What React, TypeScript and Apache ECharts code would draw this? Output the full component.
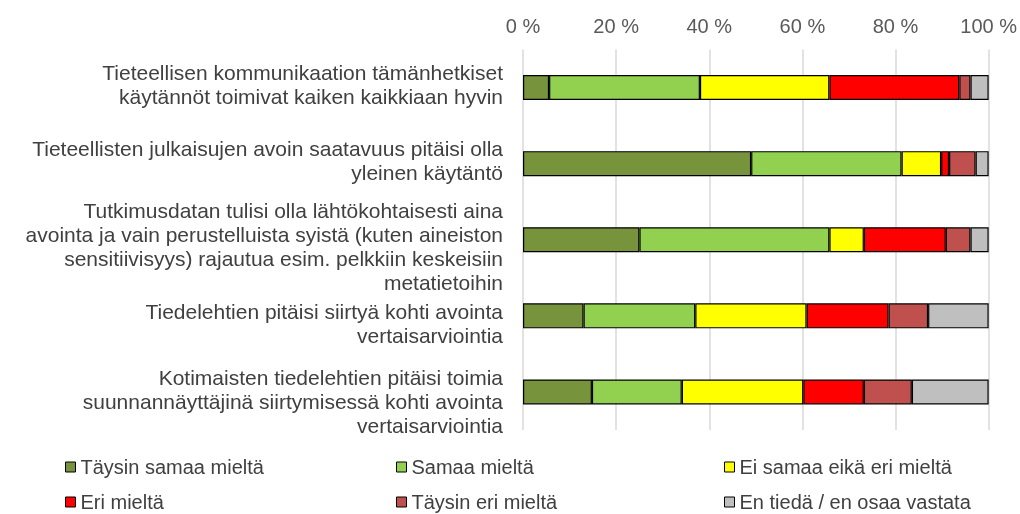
import React, { useEffect, useRef } from "react";
import * as echarts from "echarts";

const categories = [
  "Tieteellisen kommunikaation tämänhetkiset\nkäytännöt toimivat kaiken kaikkiaan hyvin",
  "Tieteellisten julkaisujen avoin saatavuus pitäisi olla\nyleinen käytäntö",
  "Tutkimusdatan tulisi olla lähtökohtaisesti aina\navointa ja vain perustelluista syistä (kuten aineiston\nsensitiivisyys) rajautua esim. pelkkiin keskeisiin\nmetatietoihin",
  "Tiedelehtien pitäisi siirtyä kohti avointa\nvertaisarviointia",
  "Kotimaisten tiedelehtien pitäisi toimia\nsuunnannäyttäjinä siirtymisessä kohti avointa\nvertaisarviointia",
];

const seriesNames = [
  "Täysin samaa mieltä",
  "Samaa mieltä",
  "Ei samaa eikä eri mieltä",
  "Eri mieltä",
  "Täysin eri mieltä",
  "En tiedä / en osaa vastata",
];

const seriesColors = ["#77933c", "#92d050", "#ffff00", "#ff0000", "#c0504d", "#bfbfbf"];

const taysinSamaa = [5.6, 49.0, 25.0, 13.0, 14.8];
const samaa = [32.4, 32.3, 40.8, 24.0, 19.3];
const eiSamaaEikaEri = [27.8, 8.5, 7.4, 23.9, 26.1];
const eri = [27.9, 1.7, 17.6, 17.6, 13.0];
const taysinEri = [2.4, 5.7, 5.3, 8.5, 10.3];
const enTieda = [3.9, 2.8, 3.9, 13.0, 16.5];

const seriesValues = [taysinSamaa, samaa, eiSamaaEikaEri, eri, taysinEri, enTieda];

const xTicks = { min: 0, max: 100, interval: 20 };

// style: vertical nudge (px) of each category label, done with a spacer line
const labelShift = [-3, -3, 7, 8, 10];

const legendPos = [
  { left: 65, top: 457 },
  { left: 396, top: 457 },
  { left: 724, top: 457 },
  { left: 65, top: 492 },
  { left: 396, top: 492 },
  { left: 724, top: 492 },
];

export default function App() {
  const ref = useRef<HTMLDivElement>(null);
  useEffect(() => {
    if (!ref.current) return;
    const chart = echarts.init(ref.current, null, { renderer: "svg" });
    const font = "'Liberation Sans', Arial, sans-serif";
    const rich: Record<string, any> = {};
    labelShift.forEach((d, i) => {
      rich["sp" + i] = { lineHeight: Math.abs(d) * 2, fontSize: 1, height: Math.abs(d) * 2 };
    });
    chart.setOption({
      animation: false,
      textStyle: { fontFamily: font },
      grid: { left: 523, right: 31, top: 49.5, bottom: 84, containLabel: false },
      xAxis: {
        type: "value",
        position: "top",
        min: xTicks.min,
        max: xTicks.max,
        interval: xTicks.interval,
        axisLine: { show: false },
        axisTick: { show: false },
        axisLabel: {
          formatter: "{value} %",
          color: "#595959",
          fontSize: 20,
          fontFamily: font,
          margin: 14,
        },
        splitLine: { show: true, lineStyle: { color: "#d9d9d9", width: 1.5 } },
      },
      yAxis: {
        type: "category",
        inverse: true,
        data: categories,
        axisLine: { show: false },
        axisTick: { show: false },
        axisLabel: {
          interval: 0,
          color: "#404040",
          fontSize: 21,
          lineHeight: 24,
          fontFamily: font,
          margin: 20,
          align: "right",
          rich,
          formatter: (value: string, index: number) => {
            const d = labelShift[index] || 0;
            if (d > 0) return `{sp${index}| }\n` + value;
            if (d < 0) return value + `\n{sp${index}| }`;
            return value;
          },
        },
      },
      legend: seriesNames.map((name, i) => ({
        data: [name],
        left: legendPos[i].left,
        top: legendPos[i].top,
        orient: "horizontal",
        itemWidth: 10,
        itemHeight: 10,
        padding: 0,
        icon: "rect",
        itemStyle: { borderColor: "#000", borderWidth: 1 },
        textStyle: { color: "#404040", fontSize: 20, fontFamily: font },
        selectedMode: false,
      })),
      series: seriesNames.map((name, i) => ({
        name,
        type: "bar",
        stack: "total",
        barWidth: 25,
        data: seriesValues[i],
        itemStyle: { color: seriesColors[i], borderColor: "#000", borderWidth: 1.2 },
      })),
    });
    return () => chart.dispose();
  }, []);
  return (
    <div
      ref={ref}
      style={{ position: "fixed", left: 0, top: 0, width: 1020, height: 514 }}
    />
  );
}
